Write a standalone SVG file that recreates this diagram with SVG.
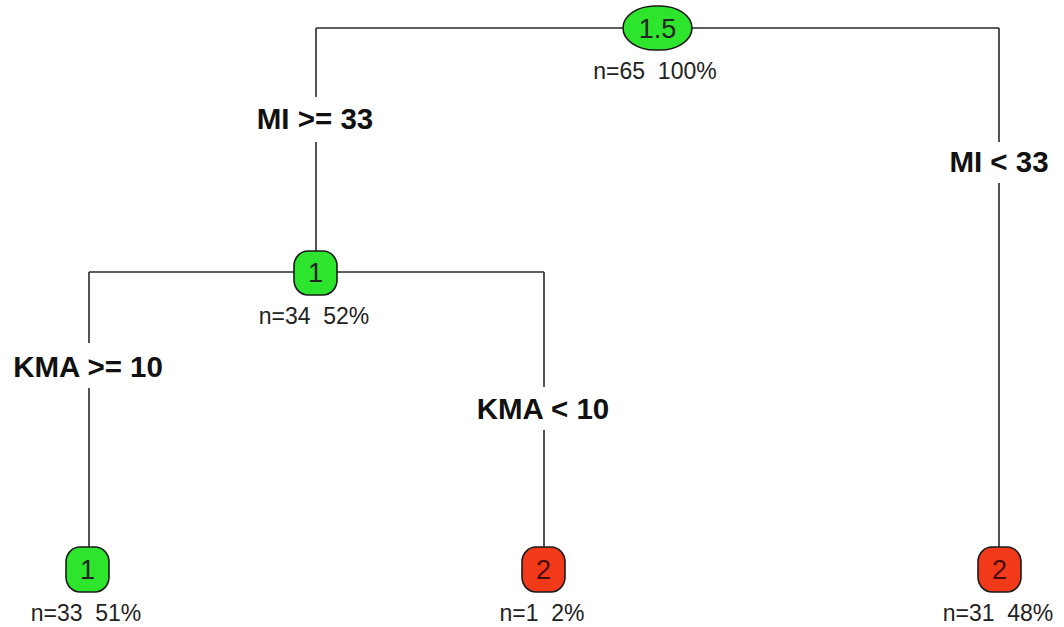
<svg xmlns="http://www.w3.org/2000/svg" width="1064" height="627" viewBox="0 0 1064 627">
<style>
.edge{stroke:#2a2a2a;stroke-width:1.6;fill:none}
.node{stroke:#1a1a1a;stroke-width:1.6}
.g{fill:#2ee52e}
.r{fill:#f23a1a}
.nt{font-family:"Liberation Sans",Arial,sans-serif;font-size:27px;text-anchor:middle;fill:#222}
.rt{fill:#4a0a00}
.info{font-family:"Liberation Sans",Arial,sans-serif;font-size:23px;text-anchor:middle;fill:#222;white-space:pre}
.split{font-family:"Liberation Sans",Arial,sans-serif;font-size:29.5px;font-weight:bold;text-anchor:middle;fill:#111}
</style>
<rect width="1064" height="627" fill="#fff"/>
<g id="connectors">
<path class="edge" d="M316,28 H999"/>
<path class="edge" d="M316,28 V97 M316,142 V252"/>
<path class="edge" d="M999,28 V142 M999,183 V547"/>
<path class="edge" d="M89,272 H544"/>
<path class="edge" d="M89,272 V343 M89,388 V547"/>
<path class="edge" d="M544,272 V387 M544,430 V547"/>
</g>
<g id="labels">
<text class="split" x="315" y="129">MI &gt;= 33</text>
<text class="split" x="999" y="172">MI &lt; 33</text>
<text class="split" x="88" y="377">KMA &gt;= 10</text>
<text class="split" x="543" y="419">KMA &lt; 10</text>
</g>
<g id="node-root">
<rect class="node g" x="623" y="6" width="69" height="44" rx="32" ry="22"/>
<text class="nt" x="657.5" y="38">1.5</text>
<text class="info" x="655" y="79" xml:space="preserve">n=65  100%</text>
</g>
<g id="node-left">
<rect class="node g" x="294" y="251" width="43" height="44" rx="14" ry="15"/>
<text class="nt" x="315.5" y="282">1</text>
<text class="info" x="314" y="324" xml:space="preserve">n=34  52%</text>
</g>
<g id="leaf-1">
<rect class="node g" x="66" y="547" width="43" height="45" rx="14" ry="15"/>
<text class="nt" x="87.5" y="579">1</text>
<text class="info" x="86" y="621" xml:space="preserve">n=33  51%</text>
</g>
<g id="leaf-2">
<rect class="node r" x="522" y="547" width="43" height="45" rx="14" ry="15"/>
<text class="nt rt" x="543.5" y="579">2</text>
<text class="info" x="542" y="621" xml:space="preserve">n=1  2%</text>
</g>
<g id="leaf-3">
<rect class="node r" x="978" y="547" width="43" height="45" rx="14" ry="15"/>
<text class="nt rt" x="999.5" y="579">2</text>
<text class="info" x="998" y="621" xml:space="preserve">n=31  48%</text>
</g>
</svg>
